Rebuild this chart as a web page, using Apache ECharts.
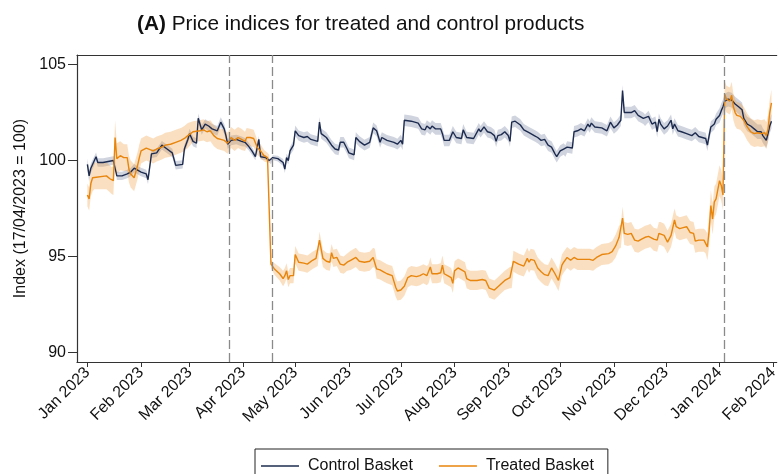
<!DOCTYPE html>
<html>
<head>
<meta charset="utf-8">
<script src="https://cdn.jsdelivr.net/npm/echarts@6/dist/echarts.min.js"></script>
<style>
  html, body { margin: 0; padding: 0; background: #fff; }
  #chart { width: 781px; height: 474px; }
</style>
</head>
<body>
<div id="chart"></div>
<script>
// control basket: daily index, with CI half-width
const ctrlDates = [
  '2023-01-01','2023-01-02','2023-01-03','2023-01-06','2023-01-07','2023-01-10','2023-01-16','2023-01-17','2023-01-18','2023-01-21','2023-01-24','2023-01-26','2023-01-28','2023-01-30',
  '2023-02-01','2023-02-04','2023-02-05','2023-02-07','2023-02-10','2023-02-13','2023-02-16','2023-02-19','2023-02-21','2023-02-25','2023-02-26','2023-02-28',
  '2023-03-01','2023-03-03','2023-03-05','2023-03-06','2023-03-08','2023-03-10','2023-03-12','2023-03-14','2023-03-17','2023-03-19','2023-03-21','2023-03-22','2023-03-23','2023-03-25','2023-03-28','2023-03-31',
  '2023-04-02','2023-04-04','2023-04-06','2023-04-08','2023-04-10','2023-04-11','2023-04-14','2023-04-16','2023-04-17','2023-04-18','2023-04-21','2023-04-24','2023-04-25','2023-04-26','2023-04-27','2023-04-28','2023-04-30',
  '2023-05-01','2023-05-03','2023-05-06','2023-05-08','2023-05-10','2023-05-14','2023-05-15','2023-05-16','2023-05-19','2023-05-22','2023-05-24','2023-05-26','2023-05-27','2023-05-29','2023-05-31',
  '2023-06-01','2023-06-04','2023-06-05','2023-06-07','2023-06-10','2023-06-13','2023-06-15','2023-06-17','2023-06-19','2023-06-20','2023-06-23','2023-06-27','2023-06-29',
  '2023-07-01','2023-07-02','2023-07-03','2023-07-07','2023-07-11','2023-07-13','2023-07-15','2023-07-16','2023-07-18','2023-07-19','2023-07-21','2023-07-24','2023-07-25','2023-07-26','2023-07-29','2023-07-31',
  '2023-08-02','2023-08-05','2023-08-06','2023-08-08','2023-08-12','2023-08-15','2023-08-16','2023-08-18','2023-08-20','2023-08-22','2023-08-24','2023-08-25','2023-08-26','2023-08-28','2023-08-30',
  '2023-09-01','2023-09-02','2023-09-03','2023-09-05','2023-09-08','2023-09-10','2023-09-13','2023-09-16','2023-09-18','2023-09-20','2023-09-22','2023-09-24','2023-09-26','2023-09-28','2023-09-29',
  '2023-10-01','2023-10-03','2023-10-04','2023-10-05','2023-10-08','2023-10-09','2023-10-11','2023-10-13','2023-10-15','2023-10-17','2023-10-18','2023-10-19','2023-10-21','2023-10-25','2023-10-28','2023-10-30',
  '2023-11-01','2023-11-03','2023-11-05','2023-11-06','2023-11-07','2023-11-11','2023-11-13','2023-11-15','2023-11-18','2023-11-19','2023-11-21','2023-11-23','2023-11-25','2023-11-26','2023-11-27','2023-11-28','2023-11-30',
  '2023-12-02','2023-12-04','2023-12-05','2023-12-06','2023-12-08','2023-12-10','2023-12-13','2023-12-16','2023-12-18','2023-12-20','2023-12-22','2023-12-24','2023-12-25','2023-12-26','2023-12-27','2023-12-29','2023-12-30',
  '2024-01-01','2024-01-02','2024-01-03','2024-01-04','2024-01-06','2024-01-08','2024-01-10','2024-01-12','2024-01-14','2024-01-15','2024-01-17','2024-01-19','2024-01-21','2024-01-23','2024-01-25','2024-01-26','2024-01-28','2024-01-29','2024-01-30','2024-01-31'
];
const ctrlIndex = [
  99.8, 99.2, 99.6, 100.2, 99.9, 99.9, 100.0, 100.0, 99.2, 99.2, 99.3, 99.4, 99.6, 99.5,
  99.4, 99.3, 99.0, 100.35, 100.4, 100.8, 100.6, 100.4, 99.75, 99.8, 100.6, 101.1,
  101.4, 101.0, 100.9, 102.2, 101.6, 101.9, 101.8, 101.65, 101.55, 102.0, 101.65, 101.3, 100.85, 101.05, 101.1, 101.0,
  100.95, 100.75, 100.5, 100.2, 101.1, 100.2, 100.15, 100.0, 99.9, 100.15, 100.1, 99.9, 99.55, 100.15, 100.0, 100.5, 100.8,
  101.55, 101.3, 101.2, 101.25, 101.1, 101.0, 102.0, 101.4, 101.2, 100.8, 100.6, 100.55, 100.95, 100.95, 100.6,
  100.4, 100.3, 101.2, 101.0, 100.8, 100.95, 101.7, 101.55, 100.95, 101.2, 101.05, 100.95, 100.85,
  101.05, 100.85, 102.1, 102.05, 101.95, 101.65, 101.6, 101.8, 101.65, 101.8, 101.65, 101.65, 101.4, 101.05, 101.05, 101.5,
  101.2, 101.15, 101.6, 101.2, 101.15, 101.65, 101.5, 101.75, 101.5, 101.45, 101.3, 101.0, 101.3, 101.35, 101.5,
  101.3, 101.0, 102.0, 102.05, 101.85, 101.6, 101.45, 101.3, 101.2, 101.05, 101.1, 100.8, 100.7, 100.35, 100.2,
  100.5, 100.6, 100.5, 100.7, 100.65, 101.5, 101.55, 101.65, 101.55, 101.9, 101.75, 101.95, 101.75, 101.7, 101.55, 102.0,
  101.7, 101.85, 102.1, 103.65, 102.5, 102.5, 102.6, 102.35, 102.2, 102.1, 102.3, 101.9, 102.0, 101.5, 102.15, 101.9, 101.65,
  101.8, 102.1, 101.65, 101.9, 101.55, 101.5, 101.4, 101.3, 101.45, 101.25, 101.2, 101.15, 100.8, 101.3, 101.75, 101.9, 102.15,
  102.35, 102.6, 102.8, 103.1, 103.2, 103.15, 102.95, 102.8, 102.65, 102.2, 101.9, 101.8, 101.65, 101.5, 101.5, 101.3, 101.05, 101.4, 101.8, 102.05
];
const ctrlCI = [
  0.3, 0.3, 0.25, 0.22, 0.22, 0.22, 0.22, 0.22, 0.22, 0.22, 0.22, 0.22, 0.22, 0.22,
  0.22, 0.22, 0.22, 0.22, 0.22, 0.22, 0.22, 0.22, 0.22, 0.22, 0.22, 0.22,
  0.25, 0.25, 0.25, 0.25, 0.25, 0.25, 0.25, 0.25, 0.25, 0.25, 0.25, 0.25, 0.25, 0.25, 0.25, 0.25,
  0.22, 0.2, 0.2, 0.18, 0.18, 0.15, 0.12, 0.1, 0.1, 0.12, 0.15, 0.18, 0.2, 0.2, 0.2, 0.22, 0.25,
  0.27, 0.27, 0.27, 0.27, 0.27, 0.27, 0.27, 0.27, 0.27, 0.27, 0.27, 0.27, 0.27, 0.27, 0.27,
  0.28, 0.28, 0.28, 0.28, 0.28, 0.28, 0.28, 0.28, 0.28, 0.28, 0.28, 0.28, 0.28,
  0.3, 0.3, 0.3, 0.3, 0.3, 0.3, 0.3, 0.3, 0.3, 0.3, 0.3, 0.3, 0.3, 0.3, 0.3, 0.3,
  0.3, 0.3, 0.3, 0.3, 0.3, 0.3, 0.3, 0.3, 0.3, 0.3, 0.3, 0.3, 0.3, 0.3, 0.3,
  0.3, 0.3, 0.3, 0.3, 0.3, 0.3, 0.3, 0.3, 0.3, 0.3, 0.3, 0.3, 0.3, 0.3, 0.3,
  0.3, 0.3, 0.3, 0.3, 0.3, 0.3, 0.3, 0.3, 0.3, 0.3, 0.3, 0.3, 0.3, 0.3, 0.3, 0.3,
  0.3, 0.3, 0.3, 0.3, 0.3, 0.3, 0.3, 0.3, 0.3, 0.3, 0.3, 0.3, 0.3, 0.3, 0.3, 0.3, 0.3,
  0.3, 0.3, 0.3, 0.3, 0.3, 0.3, 0.3, 0.3, 0.3, 0.3, 0.3, 0.3, 0.3, 0.3, 0.3, 0.3, 0.3,
  0.38, 0.38, 0.38, 0.38, 0.38, 0.38, 0.38, 0.38, 0.38, 0.38, 0.38, 0.38, 0.38, 0.38, 0.38, 0.38, 0.38, 0.38, 0.38, 0.38
];

// treated basket
const trtDates = [
  '2023-01-01','2023-01-02','2023-01-03','2023-01-04','2023-01-05','2023-01-12','2023-01-14','2023-01-15','2023-01-16','2023-01-17','2023-01-18','2023-01-20','2023-01-22','2023-01-24','2023-01-25','2023-01-26','2023-01-28','2023-01-30','2023-01-31',
  '2023-02-01','2023-02-04','2023-02-08','2023-02-10','2023-02-13','2023-02-15','2023-02-18','2023-02-21','2023-02-24','2023-02-26','2023-02-28',
  '2023-03-03','2023-03-07','2023-03-09','2023-03-11','2023-03-13','2023-03-15','2023-03-17','2023-03-19','2023-03-21','2023-03-23','2023-03-25','2023-03-27','2023-03-29','2023-03-31',
  '2023-04-02','2023-04-03','2023-04-05','2023-04-07','2023-04-09','2023-04-11','2023-04-13','2023-04-15','2023-04-16','2023-04-17','2023-04-19','2023-04-22','2023-04-24','2023-04-25','2023-04-26','2023-04-27','2023-04-28','2023-04-30',
  '2023-05-01','2023-05-03','2023-05-06','2023-05-08','2023-05-11','2023-05-13','2023-05-14','2023-05-15','2023-05-17','2023-05-19','2023-05-21','2023-05-22','2023-05-23','2023-05-25','2023-05-27','2023-05-29','2023-05-31',
  '2023-06-02','2023-06-05','2023-06-07','2023-06-10','2023-06-13','2023-06-15','2023-06-16','2023-06-17','2023-06-19','2023-06-21','2023-06-23','2023-06-26','2023-06-28','2023-06-29',
  '2023-07-01','2023-07-03','2023-07-05','2023-07-07','2023-07-10','2023-07-12','2023-07-14','2023-07-16','2023-07-17','2023-07-18','2023-07-19','2023-07-22','2023-07-24','2023-07-25','2023-07-26','2023-07-28','2023-07-30','2023-07-31',
  '2023-08-01','2023-08-03','2023-08-05','2023-08-07','2023-08-08','2023-08-10','2023-08-14','2023-08-17','2023-08-19','2023-08-21','2023-08-24','2023-08-27','2023-08-30',
  '2023-09-02','2023-09-03','2023-09-04','2023-09-07','2023-09-10','2023-09-12','2023-09-13','2023-09-14','2023-09-16','2023-09-18','2023-09-20','2023-09-22','2023-09-24','2023-09-26','2023-09-28','2023-09-30',
  '2023-10-02','2023-10-03','2023-10-05','2023-10-07','2023-10-09','2023-10-11','2023-10-14','2023-10-18','2023-10-20','2023-10-22','2023-10-25','2023-10-29','2023-10-31',
  '2023-11-02','2023-11-04','2023-11-05','2023-11-06','2023-11-07','2023-11-09','2023-11-11','2023-11-13','2023-11-15','2023-11-17','2023-11-19','2023-11-21','2023-11-22','2023-11-24','2023-11-26','2023-11-27','2023-11-28','2023-11-30',
  '2023-12-02','2023-12-04','2023-12-06','2023-12-07','2023-12-09','2023-12-11','2023-12-13','2023-12-15','2023-12-17','2023-12-18','2023-12-20','2023-12-21','2023-12-23','2023-12-24','2023-12-25','2023-12-26','2023-12-27','2023-12-28','2023-12-29','2023-12-30',
  '2024-01-01','2024-01-02','2024-01-03','2024-01-04','2024-01-05','2024-01-07','2024-01-08','2024-01-09','2024-01-10','2024-01-11','2024-01-13','2024-01-15','2024-01-17','2024-01-19','2024-01-21','2024-01-23','2024-01-25','2024-01-27','2024-01-28','2024-01-29','2024-01-30','2024-01-31'
];
const trtIndex = [
  98.2, 98.0, 98.8, 99.1, 99.2, 99.2, 99.05, 98.95, 98.95, 101.2, 100.1, 100.25, 100.15, 100.15, 99.55, 99.3, 99.1, 99.75, 100.15,
  100.5, 100.65, 100.5, 100.6, 100.7, 100.8, 100.85, 100.95, 101.05, 101.15, 101.3,
  101.5, 101.55, 101.6, 101.5, 101.55, 101.3, 101.15, 101.1, 101.05, 100.9, 101.2, 101.05, 101.2, 101.1,
  101.0, 101.2, 101.2, 101.15, 100.7, 100.5, 100.25, 100.15, 100.1, 94.6, 94.35, 94.1, 93.85, 94.0, 94.25, 93.8, 94.0, 94.0,
  95.1, 94.7, 94.65, 94.6, 94.8, 94.9, 94.95, 95.85, 94.9, 94.75, 94.7, 95.2, 94.9, 94.95, 94.6, 94.55, 94.7,
  94.8, 94.95, 94.75, 94.7, 94.75, 94.95, 94.9, 94.35, 94.3, 94.2, 94.1, 94.0, 93.4, 93.2,
  93.25, 93.45, 93.9, 94.0, 93.95, 94.0, 94.1, 94.0, 94.1, 94.45, 94.1, 94.1, 94.15, 94.55, 94.1, 94.0, 93.9, 93.6,
  94.25, 94.4, 94.3, 94.2, 93.85, 93.75, 93.75, 93.8, 93.75, 93.35, 93.25, 93.5, 93.75,
  93.9, 93.9, 94.75, 94.6, 94.5, 94.9, 94.7, 94.85, 94.8, 94.4, 94.2, 94.05, 94.0, 94.4, 94.1, 93.75,
  94.55, 94.7, 94.95, 94.8, 94.95, 94.85, 94.85, 94.85, 94.8, 94.95, 95.1, 95.15, 95.25,
  95.55, 96.0, 96.05, 97.0, 96.2, 96.15, 96.2, 95.85, 95.8, 95.9, 96.0, 96.05, 96.1, 95.9, 95.85, 96.2, 96.2, 96.1,
  95.75, 96.1, 96.9, 96.55, 96.45, 96.5, 96.55, 96.25, 96.2, 95.8, 95.85, 95.85, 95.85, 95.75, 95.5, 96.35, 97.65, 96.95, 97.85, 98.0,
  98.95, 98.7, 98.2, 103.45, 103.2, 103.1, 103.4, 102.8, 102.5, 102.35, 102.3, 102.1, 101.75, 101.5, 101.4, 101.45, 101.4, 101.45, 101.3, 101.65, 102.5, 103.0
];
const trtCI = [
  0.6, 0.6, 0.65, 0.7, 0.7, 0.7, 0.7, 0.7, 0.75, 0.9, 0.8, 0.75, 0.7, 0.7, 0.7, 0.7, 0.7, 0.7, 0.7,
  0.65, 0.65, 0.65, 0.65, 0.65, 0.65, 0.65, 0.65, 0.65, 0.65, 0.65,
  0.55, 0.55, 0.55, 0.55, 0.55, 0.55, 0.55, 0.55, 0.55, 0.55, 0.55, 0.55, 0.55, 0.55,
  0.5, 0.5, 0.45, 0.45, 0.4, 0.35, 0.3, 0.25, 0.2, 0.2, 0.3, 0.35, 0.4, 0.4, 0.4, 0.4, 0.4, 0.4,
  0.45, 0.45, 0.45, 0.45, 0.45, 0.45, 0.45, 0.45, 0.45, 0.45, 0.45, 0.45, 0.45, 0.45, 0.45, 0.45, 0.45,
  0.5, 0.5, 0.5, 0.5, 0.5, 0.5, 0.5, 0.5, 0.5, 0.5, 0.5, 0.5, 0.5, 0.5,
  0.5, 0.5, 0.5, 0.5, 0.5, 0.5, 0.5, 0.5, 0.5, 0.5, 0.5, 0.5, 0.5, 0.5, 0.5, 0.5, 0.5, 0.5,
  0.5, 0.5, 0.5, 0.5, 0.5, 0.5, 0.5, 0.5, 0.5, 0.5, 0.5, 0.5, 0.5,
  0.55, 0.55, 0.55, 0.55, 0.55, 0.55, 0.55, 0.55, 0.55, 0.55, 0.55, 0.55, 0.55, 0.55, 0.55, 0.55,
  0.55, 0.55, 0.55, 0.55, 0.55, 0.55, 0.55, 0.55, 0.55, 0.55, 0.55, 0.55, 0.55,
  0.6, 0.6, 0.6, 0.6, 0.6, 0.6, 0.6, 0.6, 0.6, 0.6, 0.6, 0.6, 0.6, 0.6, 0.6, 0.6, 0.6, 0.6,
  0.6, 0.6, 0.6, 0.6, 0.6, 0.6, 0.6, 0.6, 0.6, 0.6, 0.6, 0.6, 0.6, 0.6, 0.7, 0.8, 0.8, 0.8, 0.8, 0.8,
  0.8, 0.8, 0.8, 0.7, 0.7, 0.7, 0.7, 0.7, 0.7, 0.7, 0.7, 0.7, 0.7, 0.7, 0.7, 0.7, 0.7, 0.7, 0.7, 0.7, 0.7, 0.7
];

// vertical reference dates and month ticks
const eventDates = ['2023-03-24', '2023-04-18', '2024-01-04'];
const monthTicks = [
  '2023-01-01','2023-02-01','2023-03-01','2023-04-01','2023-05-01','2023-06-01','2023-07-01',
  '2023-08-01','2023-09-01','2023-10-01','2023-11-01','2023-12-01','2024-01-01','2024-02-01'
];
const monthNames = ['Jan','Feb','Mar','Apr','May','Jun','Jul','Aug','Sep','Oct','Nov','Dec'];
const yTicks = [90, 95, 100, 105];

const NAVY = '#1d2b4f';
const ORANGE = '#e8850c';
const FONT = '"Liberation Sans", Arial, sans-serif';

const chart = echarts.init(document.getElementById('chart'), null, { renderer: 'canvas' });

const ts = d => +echarts.time.parse(d);

function lineData(dates, vals) {
  return dates.map((d, i) => [ts(d), vals[i]]);
}
// rows of [time, lower, upper]
function bandRows(dates, vals, ci) {
  return dates.map((d, i) => {
    const h = ci[i] ?? 0.3;
    return [ts(d), vals[i] - h, vals[i] + h];
  });
}

// CI band drawn as one polygon, mapped through the axes with api.coord
function bandSeries(rows, color) {
  return {
    type: 'custom',
    data: rows,
    encode: { x: 0, y: [1, 2] },
    silent: true,
    clip: true,
    z: 1,
    renderItem: function (params, api) {
      if (params.dataIndex !== 0) return null;
      const upper = rows.map(r => api.coord([r[0], r[2]]));
      const lower = rows.map(r => api.coord([r[0], r[1]])).reverse();
      return {
        type: 'polygon',
        shape: { points: upper.concat(lower) },
        style: { fill: color, stroke: null }
      };
    }
  };
}

const tickTimes = monthTicks.map(ts);

const option = {
  animation: false,
  backgroundColor: '#fff',
  title: {
    text: '{b|(A)} Price indices for treated and control products',
    left: 132,
    top: 9,
    textStyle: {
      fontFamily: FONT,
      fontSize: 20.8,
      fontWeight: 'normal',
      color: '#111',
      rich: {
        b: { fontFamily: FONT, fontSize: 20.8, fontWeight: 'bold', color: '#111' }
      }
    }
  },
  grid: { left: 77, right: 1, top: 55, bottom: 112 },
  legend: {
    data: [
      { name: 'Control Basket', icon: 'rect' },
      { name: 'Treated Basket', icon: 'rect' }
    ],
    left: 255,
    top: 449,
    padding: [9, 14, 12, 6],
    borderColor: '#222',
    borderWidth: 1,
    itemWidth: 38,
    itemHeight: 1.6,
    itemGap: 26,
    textStyle: { fontFamily: FONT, fontSize: 16, color: '#111', padding: [0, 0, 0, 4] }
  },
  xAxis: [
    {
      type: 'value',
      min: ts('2022-12-26'),
      max: ts('2024-02-03'),
      axisLine: { lineStyle: { color: '#333', width: 1.2 } },
      axisTick: { show: true, length: 5, customValues: tickTimes, lineStyle: { color: '#333' } },
      axisLabel: {
        customValues: tickTimes,
        rotate: 45,
        margin: 8,
        fontFamily: FONT,
        fontSize: 16,
        color: '#111',
        formatter: function (v) {
          const d = new Date(v);
          return monthNames[d.getMonth()] + ' ' + d.getFullYear();
        }
      },
      splitLine: { show: false }
    },
    {
      type: 'value',
      position: 'top',
      min: ts('2022-12-26'),
      max: ts('2024-02-03'),
      axisLine: { show: true, lineStyle: { color: '#333', width: 1.2 } },
      axisTick: { show: false },
      axisLabel: { show: false },
      splitLine: { show: false }
    }
  ],
  yAxis: {
    type: 'value',
    min: 89.5,
    max: 105.5,
    name: 'Index (17/04/2023 = 100)',
    nameLocation: 'middle',
    nameGap: 47,
    nameTextStyle: { fontFamily: FONT, fontSize: 16, color: '#111' },
    axisLine: { show: true, lineStyle: { color: '#333', width: 1.2 } },
    axisTick: { show: true, length: 9, customValues: yTicks, lineStyle: { color: '#333' } },
    axisLabel: { customValues: yTicks, margin: 11, fontFamily: FONT, fontSize: 16, color: '#111' },
    splitLine: { show: false }
  },
  series: [
    bandSeries(bandRows(ctrlDates, ctrlIndex, ctrlCI), 'rgba(40, 60, 110, 0.22)'),
    bandSeries(bandRows(trtDates, trtIndex, trtCI), 'rgba(240, 150, 50, 0.3)'),
    {
      name: 'Control Basket',
      type: 'line',
      data: lineData(ctrlDates, ctrlIndex),
      symbol: 'none',
      color: NAVY,
      lineStyle: { color: NAVY, width: 1.4 },
      z: 3,
      markLine: {
        silent: true,
        symbol: ['none', 'none'],
        label: { show: false },
        lineStyle: { color: '#8a8a8a', type: [9, 4], width: 1.3 },
        data: eventDates.map(d => ({ xAxis: ts(d) }))
      }
    },
    {
      name: 'Treated Basket',
      type: 'line',
      data: lineData(trtDates, trtIndex),
      symbol: 'none',
      color: ORANGE,
      lineStyle: { color: ORANGE, width: 1.4 },
      z: 4
    }
  ]
};

chart.setOption(option);
window.addEventListener('resize', () => chart.resize());
</script>
</body>
</html>
